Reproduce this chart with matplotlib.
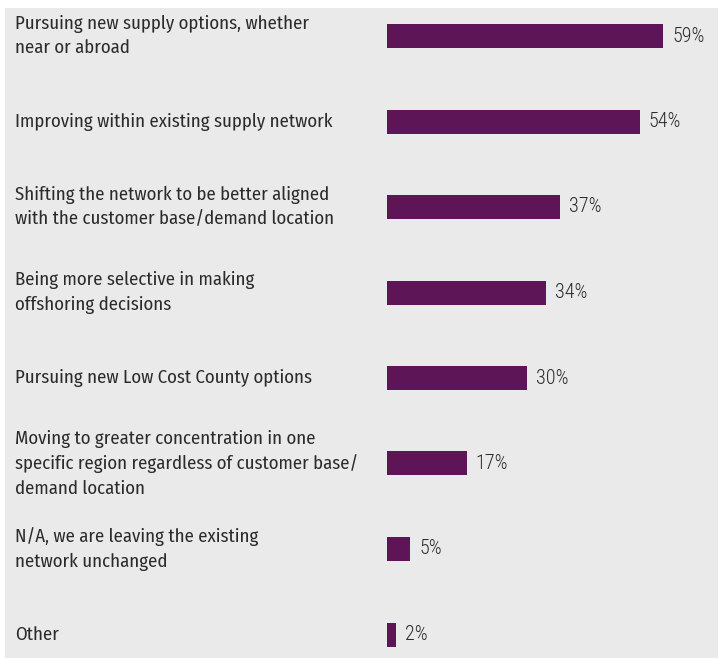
import matplotlib.pyplot as plt
from matplotlib.transforms import blended_transform_factory

labels = [
    "Pursuing new supply options, whether\nnear or abroad",
    "Improving within existing supply network",
    "Shifting the network to be better aligned\nwith the customer base/demand location",
    "Being more selective in making\noffshoring decisions",
    "Pursuing new Low Cost County options",
    "Moving to greater concentration in one\nspecific region regardless of customer base/\ndemand location",
    "N/A, we are leaving the existing\nnetwork unchanged",
    "Other",
]
values = [59, 54, 37, 34, 30, 17, 5, 2]

bar_color = "#5e1558"
bg = "#eaeaea"
txt = "#2b2b2b"
label_font = ["Fira Sans Condensed", "DejaVu Sans"]
pct_font = ["Roboto Condensed", "DejaVu Sans"]

W, H = 720, 660
fig = plt.figure(figsize=(W / 100, H / 100), dpi=100)
fig.patch.set_facecolor("white")

# panel in pixels: x 5..718, y 8..658 (from top)
px0, px1, py_top, py_bot = 5, 718, 8, 658
ax = fig.add_axes([px0 / W, 1 - py_bot / H, (px1 - px0) / W, (py_bot - py_top) / H])
ax.set_facecolor(bg)
for s in ax.spines.values():
    s.set_visible(False)
ax.set_xticks([])
ax.set_yticks([])

# scale: 0% at x=387px, 59% at x=663px
ppu = (663 - 387) / 59
ax.set_xlim(-(387 - px0) / ppu, (px1 - 387) / ppu)
step = 85.5  # px between bars
first = 36
ax.set_ylim((py_bot - first) / step, -(first - py_top) / step)

ypos = list(range(len(values)))
ax.barh(ypos, values, height=24 / step, color=bar_color, edgecolor="none")

trans = blended_transform_factory(ax.transAxes, ax.transData)
for y, lab, v in zip(ypos, labels, values):
    ax.text((15 - px0) / (px1 - px0), y, lab, transform=trans, ha="left", va="center",
            fontsize=13.5, color=txt, family=label_font, weight="normal", linespacing=1.45)
    ax.text(v + 9 / ppu, y, f"{v}%", ha="left", va="center",
            fontsize=14.5, color=txt, family=pct_font, weight="light")

fig.savefig("out.png", dpi=100, facecolor=fig.get_facecolor())
